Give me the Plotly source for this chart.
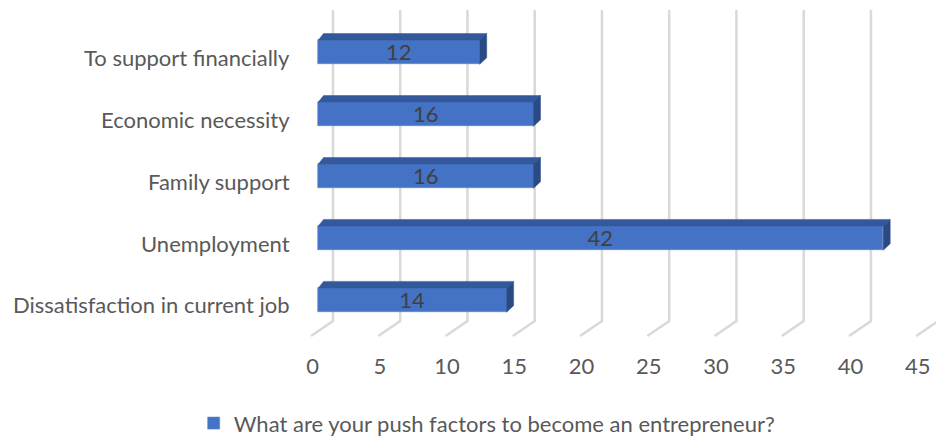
import plotly.graph_objects as go

# Survey responses: push factors toward entrepreneurship
categories = [
    "Dissatisfaction in current job",
    "Unemployment",
    "Family support",
    "Economic necessity",
    "To support financially",
]
counts = [14, 42, 16, 16, 12]
tick_values = [0, 5, 10, 15, 20, 25, 30, 35, 40, 45]
series_name = "What are your push factors to become an entrepreneur?"

FONT = "Lato"
FSIZE = 22
TEXT = "#595959"
FRONT = "#4472C4"
TOP = "#34589C"
SIDE = "#2A4A86"
GRID = "#D9D9D9"

# pseudo-3D geometry (in axis units)
BAR_H = 0.392        # front face thickness
DX, DY = 0.52, 0.105 # depth offset of the top / side faces
BACK_DX = 1.09       # back wall offset from the bar plane
FRONT_DX = -0.54     # front floor edge offset
WALL_TOP, WALL_BOTTOM, FLOOR_FRONT = 4.68, -0.339, -0.581
LABEL_DY = -0.08

ypos = list(range(len(categories)))

fig = go.Figure()

# back wall gridlines with floor diagonals, kept beneath the bars
for v in tick_values:
    fig.add_shape(
        type="path", xref="x", yref="y", layer="below",
        path=(f"M {v + BACK_DX},{WALL_TOP} L {v + BACK_DX},{WALL_BOTTOM} "
              f"L {v + FRONT_DX},{FLOOR_FRONT}"),
        line=dict(color=GRID, width=2.5),
    )

# front faces of the bars
fig.add_trace(go.Bar(
    y=ypos, x=counts, orientation="h", base=0, width=BAR_H,
    marker=dict(color=FRONT, line=dict(color="#5A86D0", width=0.6)),
    text=[str(c) for c in counts], textposition="inside", textangle=0,
    insidetextanchor="middle", constraintext="none",
    textfont=dict(family=FONT, size=FSIZE, color="#404040"),
    name=series_name, hoverinfo="skip",
))

# top and side faces
for y, c in zip(ypos, counts):
    t, b = y + BAR_H / 2, y - BAR_H / 2
    fig.add_trace(go.Scatter(
        x=[0, c, c + DX, DX * 0.75, 0], y=[t, t, t + DY, t + DY, t],
        mode="lines", fill="toself", fillcolor=TOP, line=dict(color=TOP, width=0.5),
        hoverinfo="skip", showlegend=False,
    ))
    fig.add_trace(go.Scatter(
        x=[c, c + DX, c + DX, c, c], y=[b, b + DY, t + DY, t, b],
        mode="lines", fill="toself", fillcolor=SIDE, line=dict(color=SIDE, width=0.5),
        hoverinfo="skip", showlegend=False,
    ))

# category labels
for y, name in zip(ypos, categories):
    fig.add_annotation(
        x=0, xref="paper", y=y + LABEL_DY, yref="y", text=name,
        xanchor="right", yanchor="middle", xshift=-8, showarrow=False,
        font=dict(family=FONT, size=FSIZE, color=TEXT),
    )

# value axis labels on the front floor edge
fig.add_trace(go.Scatter(x=[None], y=[None], xaxis="x2", showlegend=False))

fig.update_layout(
    width=936, height=440,
    margin=dict(l=300, r=0, t=0, b=95),
    plot_bgcolor="white", paper_bgcolor="white",
    font=dict(family=FONT, color=TEXT),
    bargap=0,
    xaxis=dict(range=[-1.361, 45.926], showgrid=False, zeroline=False,
               showticklabels=False, showline=False, fixedrange=True),
    xaxis2=dict(range=[-0.929, 46.357], overlaying="x", side="bottom",
                anchor="y", tickvals=tick_values, showgrid=False,
                zeroline=False, showline=False, ticks="",
                tickfont=dict(family=FONT, size=FSIZE, color=TEXT),
                ticklabelstandoff=6, fixedrange=True),
    yaxis=dict(range=[-0.726, 4.843], showgrid=False, zeroline=False,
               showticklabels=False, showline=False, fixedrange=True),
    showlegend=True,
    legend=dict(orientation="h", xref="container", yref="container",
                x=0.5205, y=0.038, xanchor="center", yanchor="middle",
                font=dict(family=FONT, size=FSIZE, color=TEXT)),
    hovermode=False,
)

fig.write_html("out.html", config={"displayModeBar": False})
